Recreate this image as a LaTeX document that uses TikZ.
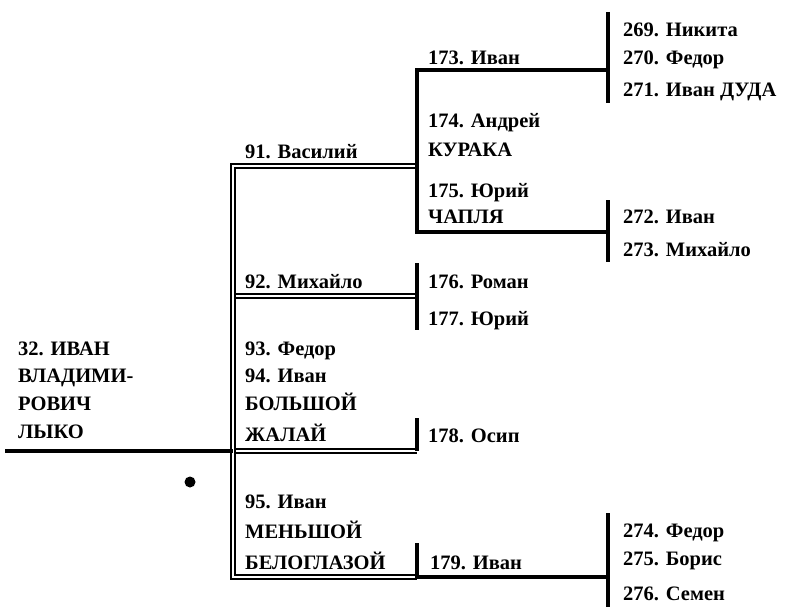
\documentclass[tikz,border=0pt]{standalone}
\usepackage{fontspec}
\setmainfont{Liberation Serif}
\begin{document}
\begin{tikzpicture}[x=1pt,y=-1pt,
  lbl/.style={anchor=base west,inner sep=0pt,font=\bfseries\fontsize{20.5}{20.5}\selectfont},
  solidln/.style={line width=4.8pt,line cap=butt,line join=miter},
  dbl/.style={line width=2.1pt,double=white,double distance=1.8pt,line join=miter,line cap=butt}]
\useasboundingbox (0,0) rectangle (787,607);
% junction coordinates
\coordinate (t0) at (5,451);
\coordinate (vTop) at (233,166);
\coordinate (vMid) at (233,451);
\coordinate (vBot) at (233,577);
\coordinate (v92) at (233,296);
\coordinate (b91) at (417,166);
\coordinate (b92) at (417,296);
\coordinate (b94) at (417,451);
\coordinate (b95) at (417,577);
\coordinate (c173) at (417,70);
\coordinate (c175) at (417,232);
\coordinate (e173) at (608,70);
\coordinate (e175) at (608,232);
\coordinate (e179) at (608,577);
\coordinate (r1a) at (608,12);
\coordinate (r1b) at (608,103);
\coordinate (r2a) at (608,200);
\coordinate (r2b) at (608,262);
\coordinate (r3a) at (608,513);
\coordinate (r3b) at (608,607);
\coordinate (m92a) at (417,263);
\coordinate (m92b) at (417,330);
\coordinate (m94a) at (417,418);
\coordinate (m95a) at (417,543);
% connectors
\draw[dbl] (v92) -- (b92);
\draw[dbl] (vMid) -- (b94);
\draw[dbl] (b91) -- (vTop) -- (vBot) -- (b95);
\draw[solidln] (t0) -- (vMid);
\draw[solidln] (e173) -- (c173) -- (c175) -- (e175);
\draw[solidln] (r1a) -- (r1b);
\draw[solidln] (r2a) -- (r2b);
\draw[solidln] (m92a) -- (m92b);
\draw[solidln] (m94a) -- (b94);
\draw[solidln] (m95a) -- (b95) -- (e179);
\draw[solidln] (r3a) -- (r3b);
\fill (190,482) circle (5.5pt);
% labels
\node[lbl] (n32a) at (18,355) {32. ИВАН};
\node[lbl] (n32b) at (18,382) {ВЛАДИМИ-};
\node[lbl] (n32c) at (18,410) {РОВИЧ};
\node[lbl] (n32d) at (18,438) {ЛЫКО};
\node[lbl] (n91) at (245,158) {91. Василий};
\node[lbl] (n92) at (245,288) {92. Михайло};
\node[lbl] (n93) at (245,355) {93. Федор};
\node[lbl] (n94a) at (245,382) {94. Иван};
\node[lbl] (n94b) at (245,410) {БОЛЬШОЙ};
\node[lbl] (n94c) at (245,441) {ЖАЛАЙ};
\node[lbl] (n95a) at (245,508) {95. Иван};
\node[lbl] (n95b) at (245,538) {МЕНЬШОЙ};
\node[lbl] (n95c) at (245,569) {БЕЛОГЛАЗОЙ};
\node[lbl] (n173) at (428,65) {173. Иван};
\node[lbl] (n174a) at (428,128) {174. Андрей};
\node[lbl] (n174b) at (428,157) {КУРАКА};
\node[lbl] (n175a) at (428,197) {175. Юрий};
\node[lbl] (n175b) at (428,223) {ЧАПЛЯ};
\node[lbl] (n176) at (428,288) {176. Роман};
\node[lbl] (n177) at (428,325) {177. Юрий};
\node[lbl] (n178) at (428,442) {178. Осип};
\node[lbl] (n179) at (430,569) {179. Иван};
\node[lbl] (n269) at (623,37) {269. Никита};
\node[lbl] (n270) at (623,65) {270. Федор};
\node[lbl] (n271) at (623,97) {271. Иван ДУДА};
\node[lbl] (n272) at (623,223) {272. Иван};
\node[lbl] (n273) at (623,256) {273. Михайло};
\node[lbl] (n274) at (623,537) {274. Федор};
\node[lbl] (n275) at (623,565) {275. Борис};
\node[lbl] (n276) at (623,600) {276. Семен};
\end{tikzpicture}
\end{document}
